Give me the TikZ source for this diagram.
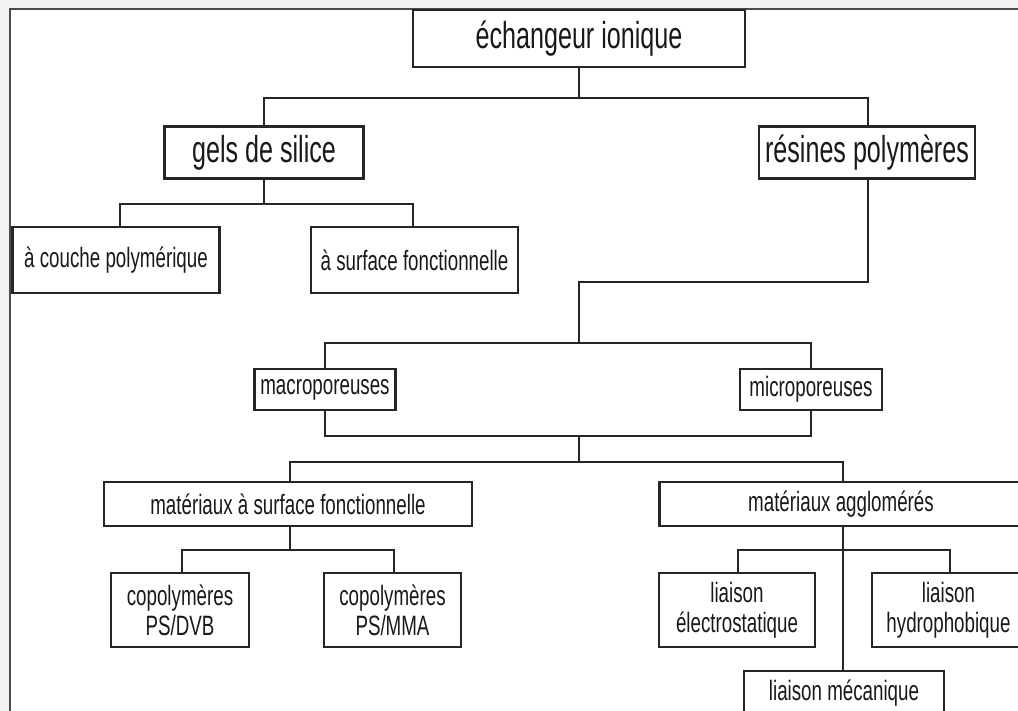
\documentclass[tikz,border=0pt]{standalone}
\usepackage{fontspec}
\setmainfont{Liberation Sans}[FakeStretch=0.67]
\begin{document}
\begin{tikzpicture}[x=1pt,y=-1pt,
  box/.style={draw=black!85, line width=2.3pt, fill=white, inner sep=0pt, align=center,
              font=\fontsize{28}{30}\selectfont, text=black!90},
  big/.style={font=\fontsize{37.5}{40}\selectfont},
  conn/.style={draw=black!85, line width=2.1pt},
  frame/.style={draw=black!70, line width=2.4pt}]
\useasboundingbox (0,0) rectangle (1018,711);
\clip (0,0) rectangle (1018,711);
\fill[black!5] (0,0) rectangle (1018,711);
\fill[white] (10,9) rectangle (1018,711);
\draw[frame] (10,711) -- (10,9) -- (1018,9);

% nodes
\node[box,big,minimum width=332pt,minimum height=57pt] (ech) at (579,38.5) {échangeur ionique};
\node[box,big,minimum width=199pt,minimum height=52pt] (gels) at (264,152.5) {gels de silice};
\node[box,big,minimum width=216pt,minimum height=52pt] (res) at (867,152.5) {résines polymères};
\node[box,minimum width=207pt,minimum height=66pt] (couche) at (116,260) {à couche polymérique};
\node[box,minimum width=207pt,minimum height=66pt] (surf) at (414.5,260) {à surface fonctionnelle};
\node[box,minimum width=141pt,minimum height=41pt] (macro) at (325,389.5) {macroporeuses};
\node[box,minimum width=142pt,minimum height=41pt] (micro) at (811,389.5) {microporeuses};
\node[box,minimum width=368pt,minimum height=44pt] (matsurf) at (288,504) {matériaux à surface fonctionnelle};
\node[box,minimum width=363pt,minimum height=44pt] (agglo) at (841,504) {matériaux agglomérés};
\node[box,minimum width=138pt,minimum height=74pt] (dvb) at (180,610) {copolymères\\PS/DVB};
\node[box,minimum width=137pt,minimum height=74pt] (mma) at (392.5,610) {copolymères\\PS/MMA};
\node[box,minimum width=156pt,minimum height=74pt] (elec) at (737,610) {liaison\\électrostatique};
\node[box,minimum width=153pt,minimum height=74pt] (hydro) at (948.5,610) {liaison\\hydrophobique};
\node[box,minimum width=200pt,minimum height=44pt] (meca) at (844,693) {liaison mécanique};

% junctions
\coordinate (j0) at (579,98);
\coordinate (j1) at (579,343);
\coordinate (j2) at (579,436);
\coordinate (j3) at (579,462);

% connectors
\draw[conn] (ech.south) -- (j0);
\draw[conn] (gels.north) |- (j0) -| ([xshift=1pt]res.north);
\draw[conn] (gels.south) -- ++(0,24) coordinate (g1);
\draw[conn] ([xshift=4pt]couche.north) |- (g1) -| ([xshift=-1.5pt]surf.north);
\draw[conn] ([xshift=1pt]res.south) |- (579,282) -- (j1);
\draw[conn] (macro.north) |- (j1) -| (micro.north);
\draw[conn] (macro.south) |- (j2) -| (micro.south);
\draw[conn] (j2) -- (j3);
\draw[conn] ([xshift=2pt]matsurf.north) |- (j3) -| ([xshift=2pt]agglo.north);
\draw[conn] ([xshift=2pt]matsurf.south) -- ++(0,23) coordinate (m1);
\draw[conn] ([xshift=2pt]dvb.north) |- (m1) -| ([xshift=1.5pt]mma.north);
\draw[conn] ([xshift=2pt]agglo.south) -- ([xshift=-1pt]meca.north);
\coordinate (a1) at (843,550);
\draw[conn] ([xshift=1pt]elec.north) |- (a1) -| ([xshift=1.5pt]hydro.north);
\end{tikzpicture}
\end{document}
